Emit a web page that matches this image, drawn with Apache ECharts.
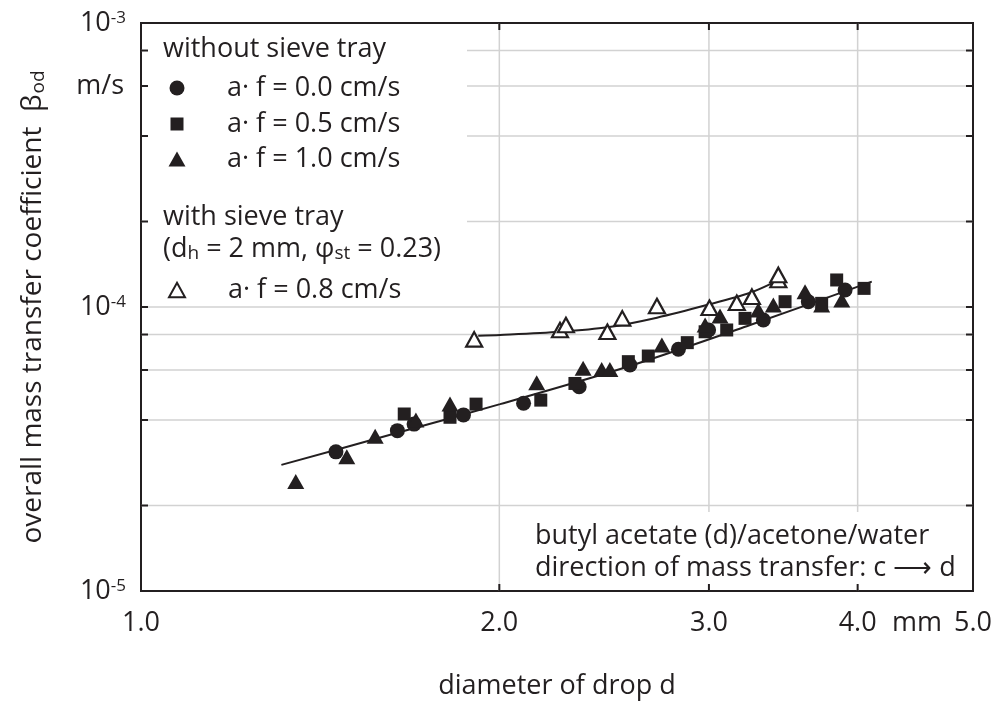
<!DOCTYPE html>
<html>
<head>
<meta charset="utf-8">
<script src="https://cdn.jsdelivr.net/npm/echarts@6/dist/echarts.min.js"></script>
<style>
html,body{margin:0;padding:0;background:#fff;}
#chart{width:998px;height:705px;}
</style>
</head>
<body>
<div id="chart"></div>
<script>
// ---------- data ----------
const circleX = [1.458, 1.642, 1.696, 1.866, 2.096, 2.334, 2.575, 2.828, 2.998, 3.333, 3.636, 3.904];
const circleY = [3.09e-5, 3.67e-5, 3.87e-5, 4.17e-5, 4.58e-5, 5.24e-5, 6.25e-5, 7.10e-5, 8.30e-5, 9.00e-5, 1.044e-4, 1.148e-4];

const squareX = [1.664, 1.818, 1.912, 2.167, 2.315, 2.567, 2.668, 2.877, 2.978, 3.105, 3.217, 3.476, 3.731, 3.841, 4.05];
const squareY = [4.20e-5, 4.09e-5, 4.55e-5, 4.70e-5, 5.38e-5, 6.42e-5, 6.72e-5, 7.49e-5, 8.18e-5, 8.30e-5, 9.12e-5, 1.044e-4, 1.030e-4, 1.245e-4, 1.163e-4];

const triX = [1.349, 1.489, 1.573, 1.702, 1.818, 2.150, 2.352, 2.438, 2.477, 2.739, 2.978, 3.065, 3.301, 3.398, 3.613, 3.731, 3.879];
const triY = [2.43e-5, 2.97e-5, 3.51e-5, 4.00e-5, 4.55e-5, 5.41e-5, 6.08e-5, 6.03e-5, 6.03e-5, 7.35e-5, 8.64e-5, 9.30e-5, 9.76e-5, 1.016e-4, 1.132e-4, 1.016e-4, 1.058e-4];

const openX = [1.905, 2.249, 2.275, 2.465, 2.537, 2.713, 3.003, 3.166, 3.260, 3.431, 3.431];
const openY = [7.69e-5, 8.30e-5, 8.64e-5, 8.18e-5, 9.12e-5, 1.008e-4, 9.94e-5, 1.035e-4, 1.087e-4, 1.245e-4, 1.297e-4];

const fitLowX = [1.312, 1.628, 2.003, 2.575, 3.249, 4.111];
const fitLowY = [2.78e-5, 3.57e-5, 4.55e-5, 6.20e-5, 8.64e-5, 1.228e-4];

const fitTrayX = [1.920, 2.003, 2.249, 2.465, 2.713, 3.003, 3.249, 3.388];
const fitTrayY = [7.92e-5, 7.97e-5, 8.18e-5, 8.48e-5, 9.17e-5, 1.022e-4, 1.123e-4, 1.212e-4];

const seriesNames = ['a\u00b7 f = 0.0 cm/s', 'a\u00b7 f = 0.5 cm/s', 'a\u00b7 f = 1.0 cm/s', 'a\u00b7 f = 0.8 cm/s'];

const xTicks = [2, 3, 4];
const yTicks = [2e-5, 4e-5, 6e-5, 8e-5, 1e-4, 2e-4, 4e-4, 6e-4, 8e-4];
const xLabelVals = [1, 2, 3, 4, 5];
const xLabelText = ['1.0', '2.0', '3.0', '4.0', '5.0'];

// ---------- styling ----------
const FONT = '"Open Sans", "Liberation Sans", Arial, sans-serif';
const INK = '#231f20';
const GRIDC = '#d2d2d2';
const FS = 27;
const SUB = 19;
const TICK = 7;

const pairs = (xs, ys) => xs.map((x, i) => [x, ys[i]]);

function hGrid(params, api) {
  const cs = params.coordSys;
  const y = api.coord([api.value(0), api.value(1)])[1];
  return {type: 'line', silent: true, shape: {x1: cs.x, y1: y, x2: cs.x + cs.width, y2: y},
          style: {stroke: GRIDC, lineWidth: 1.5}};
}
function vGrid(params, api) {
  const cs = params.coordSys;
  const x = api.coord([api.value(0), api.value(1)])[0];
  return {type: 'line', silent: true, shape: {x1: x, y1: cs.y, x2: x, y2: cs.y + cs.height},
          style: {stroke: GRIDC, lineWidth: 1.5}};
}
function hTick(params, api) {
  const cs = params.coordSys;
  const y = api.coord([api.value(0), api.value(1)])[1];
  return {type: 'group', silent: true, children: [
    {type: 'line', shape: {x1: cs.x, y1: y, x2: cs.x + TICK, y2: y}, style: {stroke: INK, lineWidth: 2}},
    {type: 'line', shape: {x1: cs.x + cs.width - TICK, y1: y, x2: cs.x + cs.width, y2: y}, style: {stroke: INK, lineWidth: 2}}
  ]};
}
function vTick(params, api) {
  const cs = params.coordSys;
  const x = api.coord([api.value(0), api.value(1)])[0];
  return {type: 'group', silent: true, children: [
    {type: 'line', shape: {x1: x, y1: cs.y, x2: x, y2: cs.y + TICK}, style: {stroke: INK, lineWidth: 2}},
    {type: 'line', shape: {x1: x, y1: cs.y + cs.height - TICK, x2: x, y2: cs.y + cs.height}, style: {stroke: INK, lineWidth: 2}}
  ]};
}
function xLabel(params, api) {
  const p = api.coord([api.value(0), api.value(1)]);
  return {type: 'text', silent: true, x: p[0], y: p[1] + 32,
          style: {text: xLabelText[api.value(2)], align: 'center', verticalAlign: 'middle',
                  fontSize: FS, fontFamily: FONT, fill: INK}};
}

function legendFor(name, icon, w, h, cx, cy) {
  return {
    data: [{name: name, icon: icon}],
    left: cx - w / 2, top: cy - 15, padding: 0, itemGap: 0,
    itemWidth: w, itemHeight: h, selectedMode: false,
    textStyle: {fontSize: FS, fontFamily: FONT, color: INK, lineHeight: 30,
                padding: [0, 0, 0, 227 - (cx + w / 2) - 5]}
  };
}

const txt = (t, x, y, align) => ({type: 'text', z: 6, x: x, y: y, silent: true,
  style: {text: t, fontSize: FS, fontFamily: FONT, fill: INK, align: align || 'left', verticalAlign: 'middle'}});

const chart = echarts.init(document.getElementById('chart'), null, {renderer: 'canvas'});
chart.setOption({
  animation: false,
  backgroundColor: '#ffffff',
  grid: {left: 141, top: 23, right: 25, bottom: 114, show: true, borderColor: INK, borderWidth: 2,
         backgroundColor: 'transparent'},
  xAxis: {
    type: 'log', min: 1, max: 5, logBase: 10,
    axisLine: {show: false}, axisTick: {show: false}, axisLabel: {show: false}, splitLine: {show: false},
    name: 'diameter of drop d', nameLocation: 'middle', nameGap: 82,
    nameTextStyle: {fontSize: FS, fontFamily: FONT, color: INK}
  },
  yAxis: {
    type: 'log', min: 1e-5, max: 1e-3, logBase: 10,
    axisLine: {show: false}, axisTick: {show: false}, splitLine: {show: false},
    axisLabel: {
      margin: 15,
      formatter: v => '{n|10}{s|' + Math.round(Math.log10(v)) + '}',
      rich: {
        n: {fontSize: FS, fontFamily: FONT, color: INK},
        s: {fontSize: 17, fontFamily: FONT, color: INK, verticalAlign: 'top'}
      }
    },
    name: '{a|overall mass transfer coefficient  \u03b2}{b|od}',
    nameLocation: 'middle', nameGap: 93,
    nameTextStyle: {
      rich: {
        a: {fontSize: 28, fontFamily: FONT, color: INK},
        b: {fontSize: SUB, fontFamily: FONT, color: INK, padding: [10, 0, 0, 1]}
      }
    }
  },
  legend: [
    legendFor(seriesNames[0], 'circle', 15, 15, 177, 88),
    legendFor(seriesNames[1], 'rect', 13, 13, 177, 124),
    legendFor(seriesNames[2], 'triangle', 17, 15, 177, 159),
    legendFor(seriesNames[3], 'triangle', 16, 14.5, 176, 290)
  ],
  graphic: [
    {type: 'rect', z: 2, silent: true, shape: {x: 143, y: 25, width: 324, height: 278}, style: {fill: '#fff'}},
    {type: 'rect', z: 2, silent: true, shape: {x: 525, y: 512, width: 446, height: 77}, style: {fill: '#fff'}},
    txt('without sieve tray', 163, 49),
    txt('with sieve tray', 163, 217),
    {type: 'text', z: 6, x: 163, y: 249, silent: true,
     style: {text: '{a|(d}{s|h}{a| = 2 mm, \u03c6}{s|st}{a| = 0.23)}', verticalAlign: 'middle', align: 'left',
             rich: {a: {fontSize: FS, fontFamily: FONT, fill: INK, color: INK},
                    s: {fontSize: SUB, fontFamily: FONT, fill: INK, color: INK, padding: [10, 0, 0, 0]}}}},
    txt('butyl acetate (d)/acetone/water', 535, 536),
    txt('direction of mass transfer: c \u27f6 d', 535, 568),
    txt('m/s', 124, 86, 'right'),
    txt('mm', 917, 623, 'center')
  ],
  series: [
    {type: 'custom', name: 'hgrid', z: 1, silent: true, renderItem: hGrid, data: yTicks.map(v => [1, v])},
    {type: 'custom', name: 'vgrid', z: 1, silent: true, renderItem: vGrid, data: xTicks.map(v => [v, 1e-5])},
    {type: 'custom', name: 'hticks', z: 4, silent: true, renderItem: hTick, data: yTicks.map(v => [1, v])},
    {type: 'custom', name: 'vticks', z: 4, silent: true, renderItem: vTick, data: xTicks.map(v => [v, 1e-5])},
    {type: 'custom', name: 'xlabels', z: 4, silent: true, clip: false, renderItem: xLabel,
     data: xLabelVals.map((v, i) => [v, 1e-5, i])},
    {type: 'line', name: 'fit without tray', z: 4, smooth: 0.3, showSymbol: false, silent: true,
     lineStyle: {color: INK, width: 2}, data: pairs(fitLowX, fitLowY)},
    {type: 'line', name: 'fit with tray', z: 4, smooth: 0.3, showSymbol: false, silent: true,
     lineStyle: {color: INK, width: 2}, data: pairs(fitTrayX, fitTrayY)},
    {type: 'scatter', name: seriesNames[0], z: 5, symbol: 'circle', symbolSize: 15,
     itemStyle: {color: INK, opacity: 1}, data: pairs(circleX, circleY)},
    {type: 'scatter', name: seriesNames[1], z: 5, symbol: 'rect', symbolSize: 13,
     itemStyle: {color: INK, opacity: 1}, data: pairs(squareX, squareY)},
    {type: 'scatter', name: seriesNames[2], z: 5, symbol: 'triangle', symbolSize: [17, 15],
     itemStyle: {color: INK, opacity: 1}, data: pairs(triX, triY)},
    {type: 'scatter', name: seriesNames[3], z: 5, symbol: 'triangle', symbolSize: [16, 14.5],
     itemStyle: {color: '#ffffff', borderColor: INK, borderWidth: 2.2, opacity: 1}, data: pairs(openX, openY)}
  ]
});
</script>
</body>
</html>
